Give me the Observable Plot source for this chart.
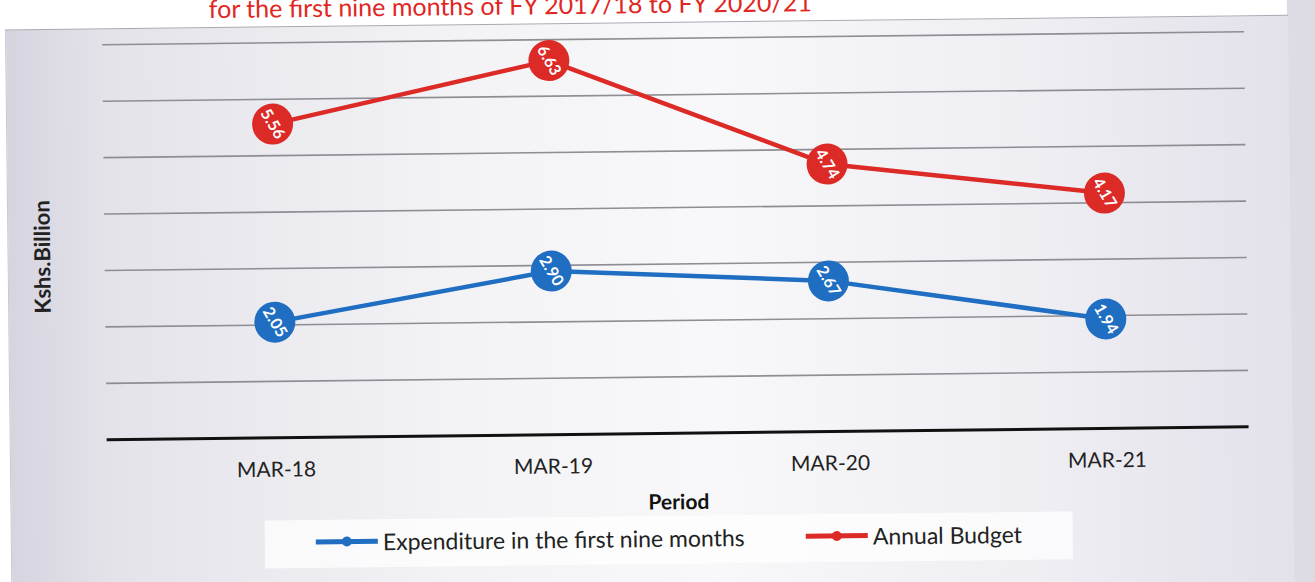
<!DOCTYPE html>
<html>
<head>
<meta charset="utf-8">
<script src="https://cdn.jsdelivr.net/npm/d3@7"></script>
<script src="https://cdn.jsdelivr.net/npm/@observablehq/plot@0.6"></script>
<style>
  html, body { margin: 0; padding: 0; width: 1315px; height: 582px; overflow: hidden; background: #ffffff; font-family: Lato, "Open Sans", sans-serif; }
  #page { position: absolute; left: 0; top: 0; width: 1315px; height: 582px; transform: rotate(-0.65deg); transform-origin: 657px 291px; }
  #rightstrip { position: absolute; left: 1290px; top: -20px; width: 60px; height: 640px; background: #dddbe4; }
  #title { position: absolute; left: 212px; top: -12px; color: #e0261f; font-size: 25px; white-space: nowrap; }
  #frame { position: absolute; left: 8px; top: 22px; width: 1282px; height: 600px; border-top: 1.5px solid #a9a8b3; border-left: 1px solid #c9c7d1;
           background: linear-gradient(90deg, #d6d4df 0%, #e4e3ea 8%, #f3f3f6 35%, #f8f8fa 55%, #eeeef3 80%, #e3e1ea 100%); }
  #chart { position: absolute; left: 0; top: 0; }
  #legend { position: absolute; left: 262px; top: 516px; width: 808px; height: 48px; background: rgba(255,255,255,0.72);
            font-size: 23px; color: #222; }
  .item { display: flex; align-items: center; position: absolute; top: 8px; }
  .item svg { margin-right: 5px; }
</style>
</head>
<body>
<div id="page">
  <div id="rightstrip"></div>
  <div id="title">for the first nine months of FY 2017/18 to FY 2020/21</div>
  <div id="frame"></div>
  <div id="chart"></div>
  <div id="legend">
    <div class="item" style="left:51px"><svg width="62" height="14"><line x1="0" y1="7" x2="62" y2="7" stroke="#1f6ec2" stroke-width="5" stroke-linecap="round"/><circle cx="31" cy="7" r="5" fill="#1f6ec2"/></svg><span>Expenditure in the first nine months</span></div>
    <div class="item" style="left:541px"><svg width="62" height="14"><line x1="0" y1="7" x2="62" y2="7" stroke="#dc2a26" stroke-width="5" stroke-linecap="round"/><circle cx="31" cy="7" r="5" fill="#dc2a26"/></svg><span>Annual Budget</span></div>
  </div>
</div>
<script>
// ---- data ----
const periods = ["MAR-18", "MAR-19", "MAR-20", "MAR-21"];
const expenditure = [2.05, 2.90, 2.67, 1.94];
const budget = [5.56, 6.63, 4.74, 4.17];
const seriesNames = ["Expenditure in the first nine months", "Annual Budget"];
const seriesColors = ["#1f6ec2", "#dc2a26"];
const gridValues = [1, 2, 3, 4, 5, 6, 7];

const rows = [
  ...periods.map((p, i) => ({period: p, value: expenditure[i], series: seriesNames[0]})),
  ...periods.map((p, i) => ({period: p, value: budget[i], series: seriesNames[1]}))
];

const chart = Plot.plot({
  width: 1315,
  height: 520,
  marginTop: 38,
  marginBottom: 87,
  marginLeft: 105,
  marginRight: 68,
  style: {background: "transparent", fontFamily: "Lato, 'Open Sans', sans-serif"},
  x: {type: "point", domain: periods, range: [273, 1106], padding: 0},
  y: {domain: [0, 7]},
  color: {domain: seriesNames, range: seriesColors},
  marks: [
    Plot.ruleY(gridValues, {stroke: "#8e8d94", strokeWidth: 1.6}),
    Plot.ruleY([0], {stroke: "#111", strokeWidth: 3}),
    Plot.axisX({tickSize: 0, tickPadding: 24, fontSize: 21, label: null, color: "#222"}),
    Plot.axisY({ticks: [], label: null}),
    Plot.text(["Period"], {frameAnchor: "bottom", dy: 76, fontSize: 21, fontWeight: "bold", fill: "#111"}),
    Plot.text(["Kshs.Billion"], {frameAnchor: "left", textAnchor: "middle", dx: -62, dy: 14, rotate: -90, fontSize: 22, fontWeight: "bold", fill: "#222"}),
    Plot.line(rows, {x: "period", y: "value", z: "series", stroke: "series", strokeWidth: 4.5}),
    Plot.dot(rows, {x: "period", y: "value", fill: "series", r: 20.5, stroke: null}),
    Plot.text(rows, {x: "period", y: "value", text: d => d.value.toFixed(2), rotate: 60, fill: "white", fontSize: 16, fontWeight: "bold"})
  ]
});
document.getElementById("chart").appendChild(chart);
</script>
</body>
</html>
